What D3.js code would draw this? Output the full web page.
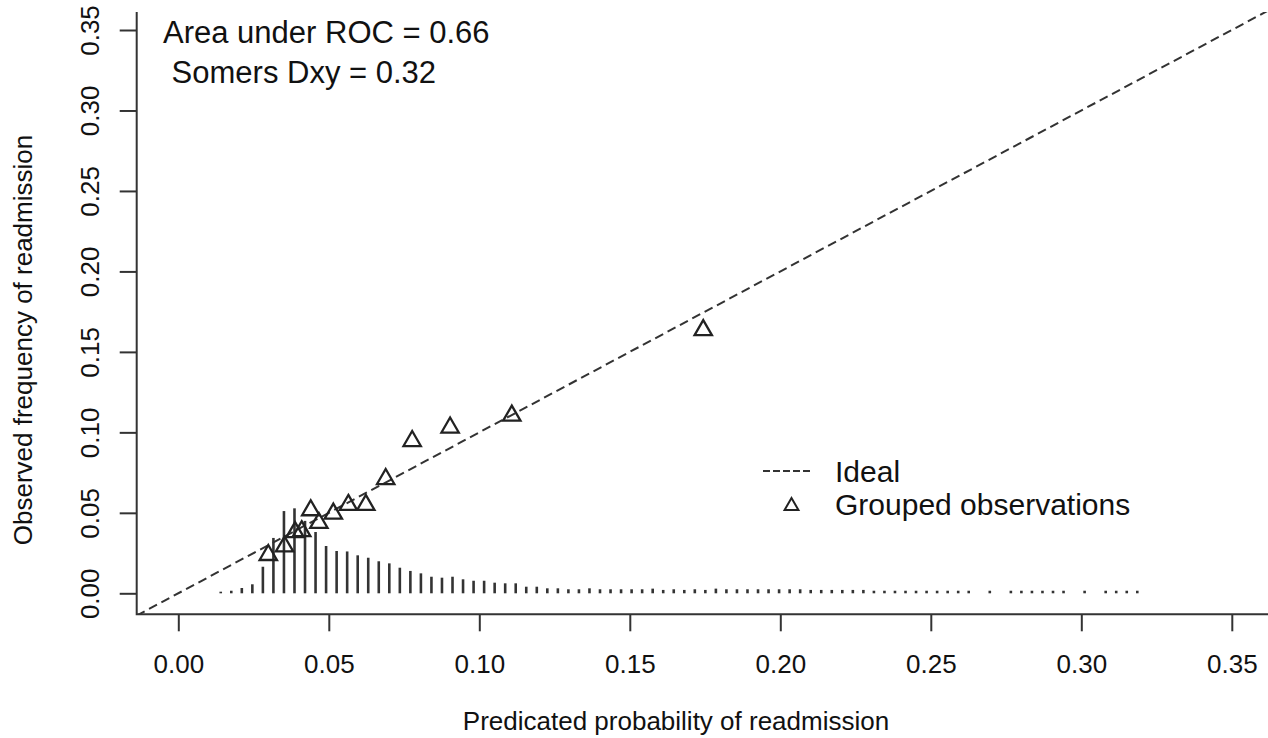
<!DOCTYPE html>
<html>
<head>
<meta charset="utf-8">
<script src="https://cdn.jsdelivr.net/npm/d3@7"></script>
<style>
  html, body { margin: 0; padding: 0; background: #fff; }
  svg { display: block; font-family: "Liberation Sans", Arial, sans-serif; }
</style>
</head>
<body>
<div id="chart"></div>
<script>
// ---- data ----
const xTicks = [0.00, 0.05, 0.10, 0.15, 0.20, 0.25, 0.30, 0.35];
const yTicks = [0.00, 0.05, 0.10, 0.15, 0.20, 0.25, 0.30, 0.35];

// grouped observations (predicted, observed)
const obsX = [0.0299, 0.0353, 0.0388, 0.0410, 0.0440, 0.0467, 0.0515, 0.0565, 0.0623, 0.0689, 0.0777, 0.0903, 0.1108, 0.1744];
const obsY = [0.0238, 0.0291, 0.0380, 0.0386, 0.0516, 0.0437, 0.0495, 0.0549, 0.0549, 0.0710, 0.0946, 0.1030, 0.1104, 0.1635];

// spike histogram of predicted probabilities (bin position, spike height)
const spikeX = [
  0.0141, 0.0176, 0.0211, 0.0246, 0.0281, 0.0316, 0.0351, 0.0386, 0.0421, 0.0456,
  0.0491, 0.0526, 0.0561, 0.0596, 0.0631, 0.0666, 0.0701, 0.0736, 0.0771, 0.0806,
  0.0841, 0.0876, 0.0911, 0.0946, 0.0981, 0.1016, 0.1051, 0.1086, 0.1121, 0.1156,
  0.1191, 0.1226, 0.1261, 0.1296, 0.1331, 0.1366, 0.1401, 0.1436, 0.1471, 0.1506,
  0.1541, 0.1576, 0.1611, 0.1646, 0.1681, 0.1716, 0.1751, 0.1786, 0.1821, 0.1856,
  0.1891, 0.1926, 0.1961, 0.1996, 0.2031, 0.2066, 0.2101, 0.2136, 0.2171, 0.2206,
  0.2241, 0.2276, 0.2311, 0.2346, 0.2381, 0.2416, 0.2451, 0.2486, 0.2521, 0.2556,
  0.2591, 0.2626, 0.2696, 0.2766, 0.2801, 0.2836, 0.2871, 0.2906, 0.2941, 0.3011,
  0.3081, 0.3116, 0.3151, 0.3186
];
const spikeH = [
  0.0010, 0.0016, 0.0033, 0.0056, 0.0165, 0.0344, 0.0511, 0.0528, 0.0450, 0.0381,
  0.0294, 0.0263, 0.0260, 0.0236, 0.0221, 0.0199, 0.0186, 0.0159, 0.0139, 0.0124,
  0.0103, 0.0097, 0.0103, 0.0087, 0.0078, 0.0078, 0.0066, 0.0062, 0.0062, 0.0041,
  0.0041, 0.0031, 0.0031, 0.0025, 0.0025, 0.0031, 0.0025, 0.0025, 0.0025, 0.0025,
  0.0025, 0.0029, 0.0021, 0.0025, 0.0021, 0.0025, 0.0021, 0.0029, 0.0025, 0.0025,
  0.0025, 0.0025, 0.0025, 0.0025, 0.0025, 0.0025, 0.0021, 0.0021, 0.0021, 0.0021,
  0.0021, 0.0021, 0.0016, 0.0016, 0.0016, 0.0016, 0.0016, 0.0016, 0.0016, 0.0016,
  0.0016, 0.0016, 0.0016, 0.0016, 0.0016, 0.0016, 0.0016, 0.0016, 0.0016, 0.0016,
  0.0016, 0.0016, 0.0016, 0.0016
];

const statLines = ["Area under ROC = 0.66", " Somers Dxy = 0.32"];
const legendLabels = ["Ideal", "Grouped observations"];
const xTitle = "Predicated probability of readmission";
const yTitle = "Observed frequency of readmission";

// ---- layout ----
const width = 1268, height = 738;
const plot = { left: 136.7, right: 1268, top: 12, bottom: 614.3 };

const svg = d3.select("#chart").append("svg")
  .attr("width", width)
  .attr("height", height);

const x = d3.scaleLinear().domain([0, 0.35]).range([178.3, 1231.8]);
const y = d3.scaleLinear().domain([0, 0.35]).range([593.3, 30]);

svg.append("clipPath").attr("id", "plotClip")
  .append("rect")
  .attr("x", plot.left).attr("y", plot.top)
  .attr("width", plot.right - plot.left).attr("height", plot.bottom - plot.top);

// spikes
svg.append("g")
  .selectAll("line")
  .data(spikeX)
  .join("line")
  .attr("x1", d => x(d)).attr("x2", d => x(d))
  .attr("y1", y(0))
  .attr("y2", (d, i) => y(spikeH[i]))
  .attr("stroke", "#333")
  .attr("stroke-width", 2.6);

// ideal line y = x across the plot region
const lo = x.invert(plot.left), hi = x.invert(plot.right);
svg.append("line")
  .attr("clip-path", "url(#plotClip)")
  .attr("x1", x(lo)).attr("y1", y(lo))
  .attr("x2", x(hi)).attr("y2", y(hi))
  .attr("stroke", "#333")
  .attr("stroke-width", 2)
  .attr("stroke-dasharray", "9,5");

// triangles
function triangle(cx, cy, r) {
  const xc = r * Math.sqrt(3) / 2;
  return `M${cx},${cy - r}L${cx + xc},${cy + r / 2}L${cx - xc},${cy + r / 2}Z`;
}

svg.append("g")
  .selectAll("path")
  .data(obsX)
  .join("path")
  .attr("d", (d, i) => triangle(x(d), y(obsY[i]), 10))
  .attr("fill", "none")
  .attr("stroke", "#222")
  .attr("stroke-width", 2.3);

// L-shaped box
svg.append("path")
  .attr("d", `M${plot.left},${plot.top}V${plot.bottom}H${plot.right}`)
  .attr("fill", "none")
  .attr("stroke", "#333")
  .attr("stroke-width", 2);

// axes
const fmt = d3.format(".2f");

const yAxis = svg.append("g")
  .attr("transform", `translate(${plot.left},0)`)
  .call(d3.axisLeft(y).tickValues(yTicks).tickFormat(fmt).tickSize(17));
yAxis.select(".domain").remove();
yAxis.selectAll(".tick line").attr("stroke", "#333").attr("stroke-width", 2);
yAxis.selectAll(".tick text")
  .attr("x", null).attr("dy", null)
  .attr("text-anchor", "middle")
  .attr("transform", "translate(-38,0) rotate(-90)")
  .attr("fill", "#111")
  .style("font-size", "26px");

const xAxis = svg.append("g")
  .attr("transform", `translate(0,${plot.bottom})`)
  .call(d3.axisBottom(x).tickValues(xTicks).tickFormat(fmt).tickSize(17));
xAxis.select(".domain").remove();
xAxis.selectAll(".tick line").attr("stroke", "#333").attr("stroke-width", 2);
xAxis.selectAll(".tick text")
  .attr("y", 59).attr("dy", null)
  .attr("fill", "#111")
  .style("font-size", "26px");

// axis titles
svg.append("text")
  .attr("x", 676).attr("y", 730)
  .attr("text-anchor", "middle")
  .attr("fill", "#111")
  .style("font-size", "26px")
  .text(xTitle);

svg.append("text")
  .attr("transform", "translate(32,340) rotate(-90)")
  .attr("text-anchor", "middle")
  .attr("fill", "#111")
  .style("font-size", "26px")
  .text(yTitle);

// stats text
svg.append("g")
  .selectAll("text")
  .data(statLines)
  .join("text")
  .attr("x", 163)
  .attr("y", (d, i) => 43 + i * 40)
  .attr("fill", "#111")
  .style("font-size", "31px")
  .style("white-space", "pre")
  .text(d => d);

// legend
const legend = svg.append("g");
legend.append("line")
  .attr("x1", 763).attr("x2", 813)
  .attr("y1", 471).attr("y2", 471)
  .attr("stroke", "#333")
  .attr("stroke-width", 2)
  .attr("stroke-dasharray", "7,3");
legend.append("path")
  .attr("d", triangle(791.5, 506, 8))
  .attr("fill", "none")
  .attr("stroke", "#222")
  .attr("stroke-width", 2);
legend.selectAll("text")
  .data(legendLabels)
  .join("text")
  .attr("x", 835)
  .attr("y", (d, i) => 482 + i * 33)
  .attr("fill", "#111")
  .style("font-size", "30px")
  .text(d => d);
</script>
</body>
</html>
